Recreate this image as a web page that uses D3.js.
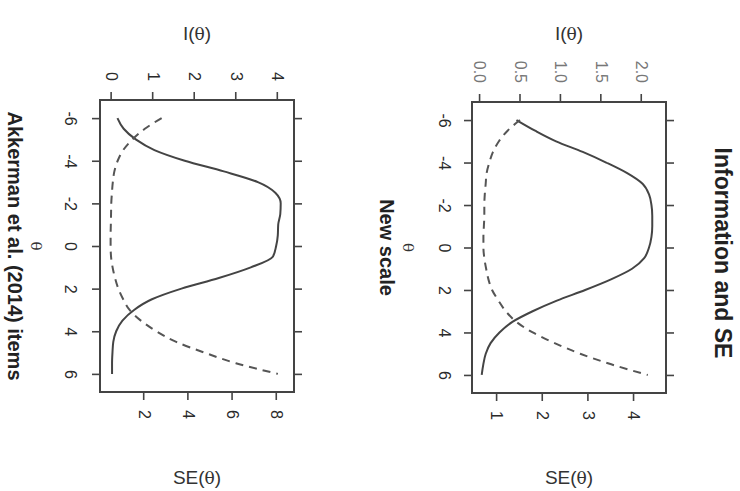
<!DOCTYPE html>
<html lang="en">
<head>
<meta charset="UTF-8">
<title>Information and SE</title>
<script src="https://d3js.org/d3.v7.min.js"></script>
<style>
    body {
        margin: 0;
        background: #fff;
        font-family: "Liberation Sans", Arial, sans-serif;
    }
    .box {
        fill: none;
        stroke: #444;
        stroke-width: 2px;
    }
    .axis .tick line {
        stroke: #444;
        stroke-width: 1.6px;
    }
    .axis text {
        font-family: "Liberation Sans", Arial, sans-serif;
        font-size: 16px;
        fill: #2a2a2a;
    }
    .info-axis.light text {
        fill: #777;
    }
    .info {
        fill: none;
        stroke: #444;
        stroke-width: 2px;
    }
    .se {
        fill: none;
        stroke: #555;
        stroke-width: 2px;
        stroke-dasharray: 8, 6;
    }
    .ylab {
        font-size: 19px;
        fill: #333;
    }
    .xlab {
        font-size: 15px;
        fill: #333;
    }
    .sub {
        font-size: 20px;
        font-weight: bold;
        fill: #222;
    }
    .title {
        font-size: 23px;
        font-weight: bold;
        fill: #222;
    }
</style>
</head>
<body>
<div id="chart"></div>
<script>
    // theta grid shared by both panels
    const theta = [-6, -5.5, -5, -4.5, -4, -3.5, -3, -2.5, -2, -1.5, -1, -0.5, 0,
                   0.5, 1, 1.5, 2, 2.5, 3, 3.5, 4, 4.5, 5, 5.5, 6];

    // new scale
    const infoNew = [0.45, 0.68, 0.94, 1.27, 1.56, 1.82, 2.01, 2.09, 2.12, 2.13, 2.13, 2.12, 2.09,
                     2.03, 1.88, 1.62, 1.30, 0.95, 0.65, 0.40, 0.24, 0.13, 0.07, 0.04, 0.02];
    const seNew = [1.50, 1.23, 1.04, 0.91, 0.83, 0.77, 0.75, 0.73, 0.72, 0.72, 0.71, 0.70, 0.70,
                   0.72, 0.76, 0.81, 0.89, 1.03, 1.19, 1.42, 1.78, 2.26, 2.82, 3.50, 4.30];

    // Akkerman et al. (2014) items
    const infoOld = [0.14, 0.29, 0.58, 1.03, 1.76, 2.70, 3.52, 3.94, 4.07, 4.06, 4.01, 4.00, 3.96,
                     3.88, 3.35, 2.58, 1.68, 0.97, 0.54, 0.26, 0.11, 0.04, 0.02, 0.01, 0.01];
    const seOld = [2.79, 2.03, 1.47, 1.05, 0.80, 0.65, 0.58, 0.54, 0.51, 0.50, 0.49, 0.48, 0.48,
                   0.50, 0.57, 0.68, 0.83, 1.05, 1.34, 1.85, 2.55, 3.45, 4.72, 6.15, 8.05];

    const thetaTicks = [-6, -4, -2, 0, 2, 4, 6];
    const infoTicksNew = [0, 0.5, 1, 1.5, 2];
    const seTicksNew = [1, 2, 3, 4];
    const infoTicksOld = [0, 1, 2, 3, 4];
    const seTicksOld = [2, 4, 6, 8];

    const W = 740, H = 491;

    const svg = d3.select("#chart")
                  .append("svg")
                  .attr("width", W)
                  .attr("height", H);

    // the figure is laid out upright (491 wide, 740 tall) and then turned
    // a quarter turn clockwise, like the scanned page
    const fig = svg.append("g")
                   .attr("transform", `translate(${W},0) rotate(90)`);

    fig.append("text")
       .attr("class", "title")
       .attr("x", 253)
       .attr("y", 17)
       .attr("dy", "0.35em")
       .attr("text-anchor", "middle")
       .text("Information and SE");

    // plain hyphen for negatives, as in the original
    const intFmt = d => String(d);

    function drawPanel(p) {
        const x = d3.scaleLinear().domain([-6.85, 6.85]).range([p.left, p.right]);
        const yI = d3.scaleLinear().domain(p.infoDomain).range([p.bottom, p.top]);
        const yS = d3.scaleLinear().domain(p.seDomain).range([p.bottom, p.top]);

        const g = fig.append("g");

        // bottom: theta
        const ax = g.append("g")
           .attr("class", "axis")
           .attr("transform", `translate(0,${p.bottom})`)
           .call(d3.axisBottom(x).tickValues(thetaTicks).tickSize(8).tickFormat(intFmt));
        ax.selectAll("text").attr("y", p.tickGap).attr("dy", "0.35em");

        // top: ticks only
        g.append("g")
         .attr("class", "axis")
         .attr("transform", `translate(0,${p.top})`)
         .call(d3.axisTop(x).tickValues(thetaTicks).tickSize(8).tickFormat(""));

        // left: information
        g.append("g")
         .attr("class", "axis info-axis" + (p.lightInfo ? " light" : ""))
         .attr("transform", `translate(${p.left},0)`)
         .call(d3.axisLeft(yI).tickValues(p.infoTicks).tickSize(8).tickPadding(11)
                 .tickFormat(p.infoFmt));

        // right: standard error
        g.append("g")
         .attr("class", "axis")
         .attr("transform", `translate(${p.right},0)`)
         .call(d3.axisRight(yS).tickValues(p.seTicks).tickSize(8).tickPadding(10)
                 .tickFormat(intFmt));

        g.selectAll(".domain").remove();

        g.append("rect")
         .attr("class", "box")
         .attr("x", p.left)
         .attr("y", p.top)
         .attr("width", p.right - p.left)
         .attr("height", p.bottom - p.top);

        const infoLine = d3.line()
                           .x((d, i) => x(theta[i]))
                           .y(d => yI(d))
                           .curve(d3.curveMonotoneX);
        const seLine = d3.line()
                         .x((d, i) => x(theta[i]))
                         .y(d => yS(d))
                         .curve(d3.curveMonotoneX);

        g.append("path").datum(p.info).attr("class", "info").attr("d", infoLine);
        g.append("path").datum(p.se).attr("class", "se").attr("d", seLine);

        const midY = (p.top + p.bottom) / 2;

        const il = g.append("text")
           .attr("class", "ylab")
           .attr("transform", `translate(33,${midY}) rotate(-90)`)
           .attr("text-anchor", "middle")
           .attr("dy", "0.35em");
        il.append("tspan").text("I(");
        il.append("tspan").attr("font-family", "'DejaVu Serif', serif").attr("font-size", "17px").text("θ");
        il.append("tspan").text(")");

        const sl = g.append("text")
           .attr("class", "ylab")
           .attr("transform", `translate(477,${midY}) rotate(-90)`)
           .attr("text-anchor", "middle")
           .attr("dy", "0.35em");
        sl.append("tspan").text("SE(");
        sl.append("tspan").attr("font-family", "'DejaVu Serif', serif").attr("font-size", "17px").text("θ");
        sl.append("tspan").text(")");

        g.append("text")
         .attr("class", "xlab")
         .attr("x", (p.left + p.right) / 2)
         .attr("y", p.bottom + 64)
         .attr("dy", "0.35em")
         .attr("text-anchor", "middle")
         .attr("font-family", "'DejaVu Serif', serif")
         .text("θ");

        g.append("text")
         .attr("class", "sub")
         .attr("x", (p.left + p.right) / 2)
         .attr("y", p.bottom + 85)
         .attr("dy", "0.35em")
         .attr("text-anchor", "middle")
         .text(p.subtitle);
    }

    drawPanel({
        left: 102, right: 393, top: 74, bottom: 268,
        infoDomain: [-0.1, 2.3], seDomain: [0.45, 4.7],
        info: infoNew, se: seNew,
        infoTicks: infoTicksNew, seTicks: seTicksNew,
        infoFmt: d3.format(".1f"),
        lightInfo: true,
        tickGap: 27,
        subtitle: "New scale"
    });

    drawPanel({
        left: 100, right: 392, top: 446, bottom: 640,
        infoDomain: [-0.28, 4.39], seDomain: [0, 8.78],
        info: infoOld, se: seOld,
        infoTicks: infoTicksOld, seTicks: seTicksOld,
        infoFmt: intFmt,
        lightInfo: false,
        tickGap: 29,
        subtitle: "Akkerman et al. (2014) items"
    });
</script>
</body>
</html>
